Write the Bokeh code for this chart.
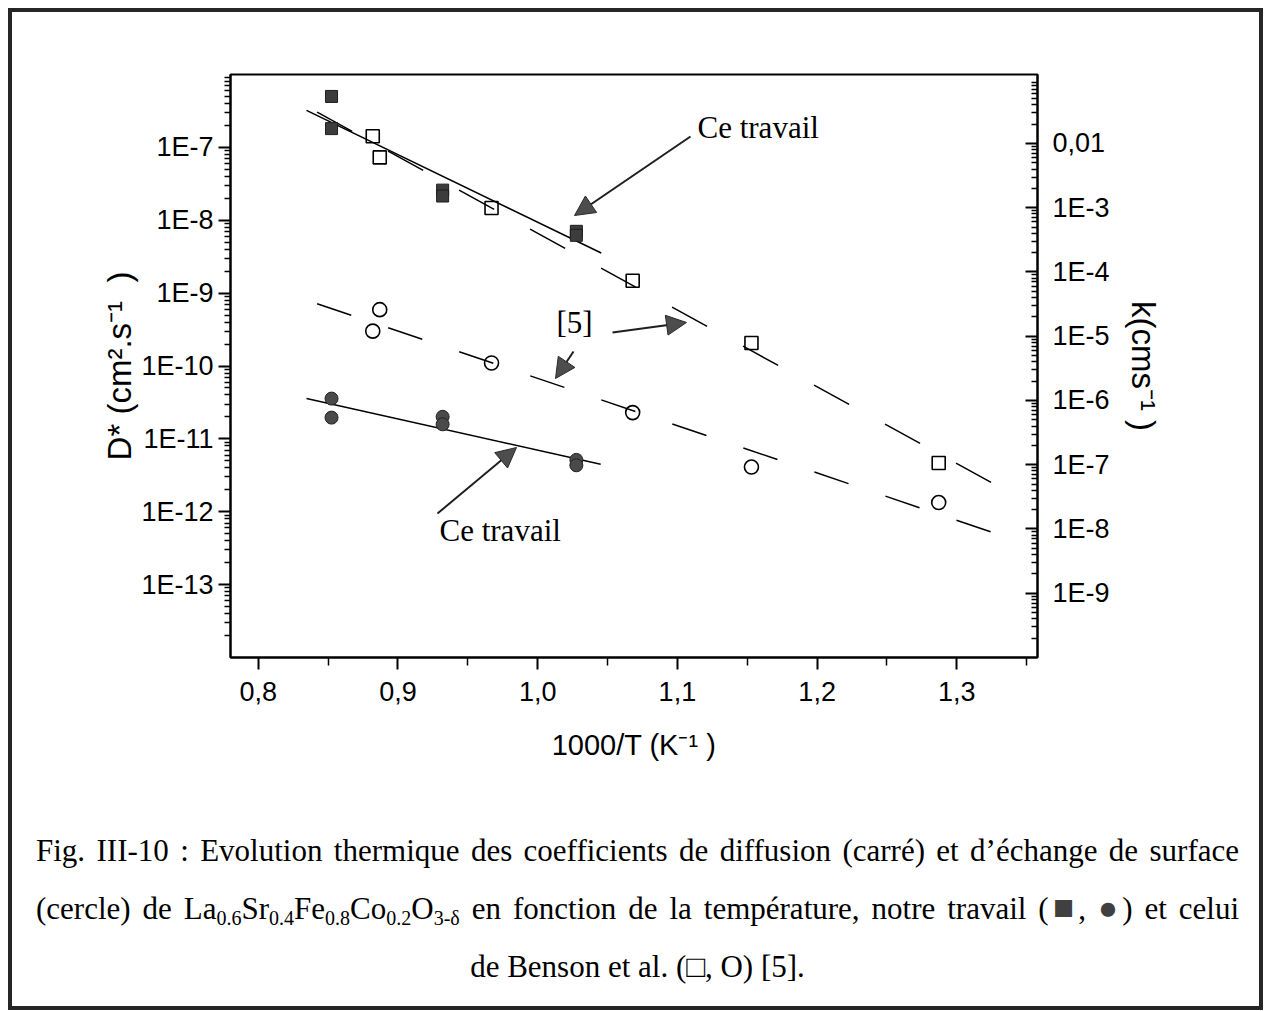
import numpy as np
from bokeh.plotting import figure
from bokeh.layouts import column, row
from bokeh.models import (Range1d, LogScale, LogAxis, FixedTicker, CustomJSTickFormatter,
                          Arrow, NormalHead, Label, Div)
from bokeh.embed import file_html
from bokeh.resources import INLINE

# ---------------- data ----------------
# this work (filled symbols): 900, 800, 700 degC, two samples each
x_this = [0.8525, 0.8525, 0.932, 0.932, 1.0277, 1.0277]
D_this = [5.0e-7, 1.81e-7, 2.59e-8, 2.15e-8, 7.05e-9, 6.21e-9]      # cm2/s (left axis)
k_this = [1.07e-6, 5.41e-7, 5.57e-7, 4.26e-7, 1.19e-7, 9.8e-8]      # cm/s (right axis)

# Benson et al. [5] (open symbols)
x_benson_D = [0.882, 0.887, 0.967, 1.068, 1.153, 1.287]
D_benson = [1.42e-7, 7.29e-8, 1.47e-8, 1.48e-9, 2.07e-10, 4.67e-12]
x_benson_k = [0.887, 0.882, 0.967, 1.068, 1.153, 1.287]
k_benson = [2.59e-5, 1.20e-5, 3.83e-6, 6.47e-7, 9.2e-8, 2.58e-8]

# fitted Arrhenius lines (end points)
fit_D_this_x = [0.8346, 1.0455]
fit_D_this_y = [3.22e-7, 3.55e-9]
fit_D_benson_x = [0.8422, 1.3285]
fit_D_benson_y = [3.05e-7, 2.29e-12]
fit_k_this_x = [0.8346, 1.0451]
fit_k_this_y = [1.07e-6, 1.02e-7]
fit_k_benson_x = [0.8422, 1.3266]
fit_k_benson_y = [3.21e-5, 8.69e-9]

# ticks
x_ticks = [0.8, 0.9, 1.0, 1.1, 1.2, 1.3]
x_minor = [0.85, 0.95, 1.05, 1.15, 1.25, 1.35]
D_ticks = [1e-13, 1e-12, 1e-11, 1e-10, 1e-9, 1e-8, 1e-7]
k_ticks = [1e-9, 1e-8, 1e-7, 1e-6, 1e-5, 1e-4, 1e-3, 1e-2]

# caption
caption_1 = "Fig. III-10 : Evolution thermique des coefficients de diffusion (carré) et d’échange de surface"
caption_2_formula = [("La", "0.6"), ("Sr", "0.4"), ("Fe", "0.8"), ("Co", "0.2"), ("O", "3-δ")]
caption_2_start = "(cercle) de "
caption_2_mid = " en fonction de la température, notre travail ("
caption_2_end = ") et celui"
caption_3 = "de Benson et al. (□, O) [5]."

# ---------------- layout ----------------
MARGIN = 8                                        # page offset of the outer frame
BAR = 4                                           # outer frame thickness
OFF = MARGIN + BAR                                # canvas origin on the page
W, H1, H2 = 1247, 776, 218                        # inner width, chart and caption heights
PX_L, PX_R, PX_T, PX_B = 230, 1037, 74, 657      # frame edges in page pixels
X_LO, X_HI = 0.7802, 1.3577
D_LO, D_HI = 1e-14, 1e-6
K_LO, K_HI = 1e-10, 10 ** -0.927


def dx(px):
    return X_LO + (px - PX_L) / (PX_R - PX_L) * (X_HI - X_LO)


def dy(py):
    lo, hi = np.log10(D_LO), np.log10(D_HI)
    return 10 ** (hi - (py - PX_T) / (PX_B - PX_T) * (hi - lo))


p = figure(width=W, height=H1, x_range=Range1d(X_LO, X_HI), y_range=Range1d(D_LO, D_HI),
           y_axis_type="log", output_backend="svg", toolbar_location=None,
           min_border_left=PX_L - OFF, min_border_right=W - (PX_R - OFF),
           min_border_top=PX_T - OFF, min_border_bottom=H1 - (PX_B - OFF),
           background_fill_color="white", border_fill_color="white", margin=0)
p.extra_y_ranges = {"k": Range1d(K_LO, K_HI)}
p.extra_y_scales = {"k": LogScale()}
p.xgrid.visible = False
p.ygrid.visible = False
p.outline_line_color = "black"
p.outline_line_width = 2


def log_minor(lo, hi):
    return [m * 10.0 ** e for e in range(lo, hi) for m in range(2, 10)]


TICK_FONT = "Liberation Sans"

# bottom axis
xa = p.xaxis[0]
xa.ticker = FixedTicker(ticks=x_ticks, minor_ticks=x_minor)
xa.formatter = CustomJSTickFormatter(code="return tick.toFixed(1).replace('.', ',');")
xa.axis_label = "1000/T (K⁻¹ )"

# left axis
ya = p.yaxis[0]
ya.ticker = FixedTicker(ticks=D_ticks, minor_ticks=log_minor(-14, -6))
ya.formatter = CustomJSTickFormatter(code="return '1E' + Math.round(Math.log10(tick));")
ya.axis_label = "D* (cm².s⁻¹\u00a0\u00a0)"

# right axis
ra = LogAxis(y_range_name="k",
             ticker=FixedTicker(ticks=k_ticks, minor_ticks=log_minor(-10, -1)),
             formatter=CustomJSTickFormatter(code="var e = Math.round(Math.log10(tick)); return e == -2 ? '0,01' : '1E' + e;"))
ra.axis_label = "k(cms⁻¹ )"
p.add_layout(ra, "right")

for ax in (xa, ya, ra):
    ax.axis_line_width = 2
    ax.axis_line_color = "black"
    ax.major_tick_line_width = 2
    ax.minor_tick_line_width = 1.5
    ax.major_label_text_font = TICK_FONT
    ax.major_label_text_font_size = "27px"
    ax.major_label_text_color = "black"
    ax.axis_label_text_font = TICK_FONT
    ax.axis_label_text_font_style = "normal"
    ax.axis_label_text_color = "black"

xa.axis_label_text_font_size = "29px"
ya.axis_label_text_font_size = "33px"
ra.axis_label_text_font_size = "33px"

xa.major_tick_out, xa.major_tick_in = 12, 0
xa.minor_tick_out, xa.minor_tick_in = 8, 0
xa.major_label_standoff = 12
xa.axis_label_standoff = 25

ya.major_tick_out, ya.major_tick_in = 12, 0
ya.minor_tick_out, ya.minor_tick_in = 6, 0
ya.major_label_standoff = 5
ya.axis_label_standoff = 0

ra.major_tick_out, ra.major_tick_in = 0, 12
ra.minor_tick_out, ra.minor_tick_in = 0, 6
ra.major_label_standoff = 15
ra.axis_label_standoff = 12

# ---------------- data glyphs ----------------
p.line(fit_D_this_x, fit_D_this_y, line_color="black", line_width=1.5)
p.line(fit_D_benson_x, fit_D_benson_y, line_color="black", line_width=1.5, line_dash="40 41")
p.line(fit_k_this_x, fit_k_this_y, y_range_name="k", line_color="black", line_width=1.5)
p.line(fit_k_benson_x, fit_k_benson_y, y_range_name="k", line_color="black", line_width=1.5,
       line_dash="36 39")

p.scatter(x_benson_D, D_benson, marker="square", size=13, fill_color=None,
          line_color="black", line_width=1.6)
p.scatter(x_this, D_this, marker="square", size=12, fill_color="#3c3c3c",
          line_color="#1e1e1e", line_width=1)
p.scatter(x_benson_k, k_benson, marker="circle", size=14, fill_color=None,
          line_color="black", line_width=1.6, y_range_name="k")
p.scatter(x_this, k_this, marker="circle", size=13, fill_color="#4a4a4a",
          line_color="#222222", line_width=1, y_range_name="k")

# ---------------- annotations ----------------
def arrow(x0, y0, x1, y1):
    p.add_layout(Arrow(end=NormalHead(size=20, fill_color="#4d4d4d", line_color="#2a2a2a",
                                      line_width=1),
                       x_start=dx(x0), y_start=dy(y0), x_end=dx(x1), y_end=dy(y1),
                       line_width=2, line_color="#1e1e1e"))


arrow(690, 136, 574, 215)
arrow(612, 332, 686, 322)
arrow(573, 351, 555, 378)
arrow(437, 513, 516, 447)

SERIF = "Liberation Serif"


def label(px, py, text, size=31):
    p.add_layout(Label(x=dx(px), y=dy(py), text=text, text_font=SERIF,
                       text_font_size=f"{size}px", text_align="left",
                       text_baseline="middle", text_color="black"))


label(697, 127, "Ce travail")
label(556, 322, "[5]")
label(439, 530, "Ce travail")

# ---------------- caption (HTML, below the chart) ----------------
SUB = '<sub style="font-size:20px; vertical-align:-6px; line-height:0;">{}</sub>'
SQ = '<span style="color:#404040; font-size:35px; line-height:0;">■</span>'
DOT = '<span style="color:#404040; font-size:33px; line-height:0;">●</span>'
formula = "".join(el + SUB.format(n) for el, n in caption_2_formula)
line2 = caption_2_start + formula + caption_2_mid + SQ + ", " + DOT + caption_2_end
JUST = "text-align:justify; text-align-last:justify;"
cap_html = (
    '<div style="box-sizing:border-box; margin:0; padding:34px 0 0 24px; width:1227px; '
    "font-family:'Liberation Serif','Times New Roman',serif; font-size:31px; "
    'color:#000; line-height:58px;">'
    f'<div style="{JUST}">{caption_1}</div>'
    f'<div style="{JUST}">{line2}</div>'
    f'<div style="text-align:center;">{caption_3}</div>'
    '</div>'
)
cap = Div(text=cap_html, width=W, height=H2, margin=0)

# outer frame made of four dark bars
DARK = {"background-color": "#262626"}
top_bar = Div(text="", width=W + 2 * BAR, height=BAR, styles=DARK, margin=0)
bot_bar = Div(text="", width=W + 2 * BAR, height=BAR, styles=DARK, margin=0)
left_bar = Div(text="", width=BAR, height=H1 + H2, styles=DARK, margin=0)
right_bar = Div(text="", width=BAR, height=H1 + H2, styles=DARK, margin=0)

layout = column(top_bar, row(left_bar, column(p, cap, margin=0), right_bar, margin=0),
                bot_bar, margin=(MARGIN, 0, 0, MARGIN))

open("out.html", "w").write(file_html(layout, INLINE))
